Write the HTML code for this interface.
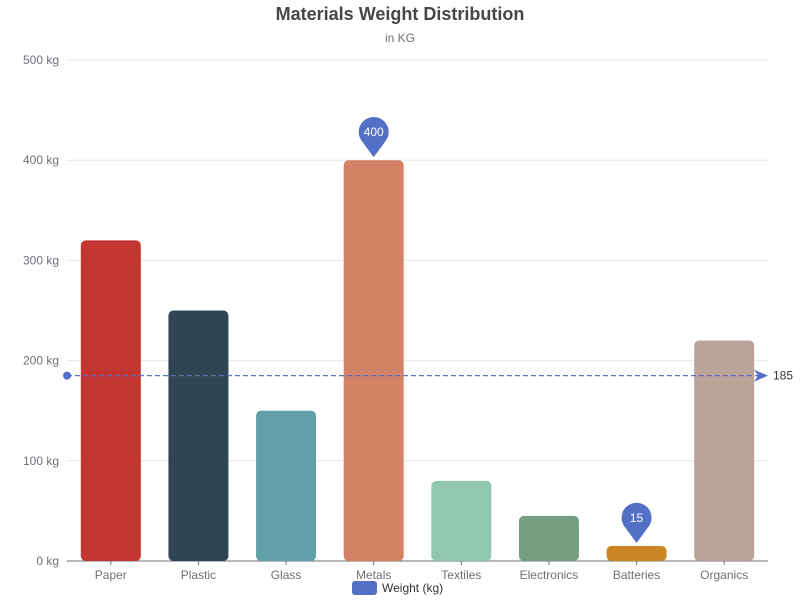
<!DOCTYPE html>
<html><head><meta charset="utf-8"><style>
body{margin:0;background:#fff;font-family:"Liberation Sans","DejaVu Sans",sans-serif}
svg{display:block}
</style></head><body>
<svg id="chart" width="800" height="600">
<text x="400" y="20" text-anchor="middle" font-size="18" font-weight="bold" fill="#464646">Materials Weight Distribution</text>
<text x="400" y="42" text-anchor="middle" font-size="12" fill="#6e7079">in KG</text>
<g id="grid"></g><g id="bars"></g><g id="axis"></g><g id="marks"></g>
<g>
<rect x="352" y="581" width="25" height="14" rx="3" fill="#5470c6"/>
<text x="382" y="592" font-size="12" fill="#333">Weight (kg)</text>
</g>
</svg>
<script>
const categories=["Paper","Plastic","Glass","Metals","Textiles","Electronics","Batteries","Organics"];
const values=[320,250,150,400,80,45,15,220];
const colors=["#c23531","#2f4554","#61a0a8","#d48265","#91c7ae","#749f83","#ca8622","#bda29a"];
const yTicks=[0,100,200,300,400,500];
const NS="http://www.w3.org/2000/svg";
const L=67,R=768,T=60,B=561,yMax=500;
const y=v=>B-(v/yMax)*(B-T);
const band=(R-L)/categories.length;
const x=i=>L+band*(i+0.5);
function mk(tag,attrs,parent,text){const e=document.createElementNS(NS,tag);for(const k in attrs)e.setAttribute(k,attrs[k]);if(text!==undefined)e.textContent=text;document.getElementById(parent).appendChild(e);return e;}
yTicks.forEach(t=>{
 const g=mk('line',{x1:L,x2:R,y1:y(t),y2:y(t),stroke:t===0?'#6e7079':'#e0e6f1'},'grid');
 
 
 const lb=mk('text',{x:L-8,y:y(t)+4,'text-anchor':'end','font-size':12,fill:'#6e7079'},'axis',t+' kg');
 
 
});
const bw=60;
categories.forEach((c,i)=>{
 const x0=x(i)-bw/2,y0=y(values[i]),h=B-y0;
 const p=mk('rect',{x:x0,y:y0,width:bw,height:h,rx:Math.min(5,h/2),fill:colors[i]},'bars');
 
 
 const tk=mk('line',{x1:x(i),x2:x(i),y1:B,y2:B+4,stroke:'#6e7079'},'axis');
 
 
 const lb=mk('text',{x:x(i),y:B+18,'text-anchor':'middle','font-size':12,fill:'#6e7079'},'axis',c);
 
 
});
const avg=values.reduce((a,b)=>a+b,0)/values.length;
const ay=y(avg);
const ml=mk('path',{d:`M${L},${ay}H${R-8}`,stroke:'#5470c6','stroke-width':1.2,'stroke-dasharray':'5,3',fill:'none'},'marks');


const mc=mk('circle',{cx:L,cy:ay,r:4,fill:'#5470c6'},'marks');


const ma=mk('path',{d:`M${R-14},${ay-6}L${R},${ay}L${R-14},${ay+6}L${R-10},${ay}Z`,fill:'#5470c6'},'marks');


const mt=mk('text',{x:R+5,y:ay+4,'font-size':12,fill:'#333'},'marks',String(Math.round(avg)));


function pin(i,name){
 const cx=x(i),tip=y(values[i])-3,cy=tip-25,r=15;
 const p=mk('path',{d:`M${cx},${tip}L${cx-11},${cy+10}A${r},${r} 0 1 1 ${cx+11},${cy+10}Z`,fill:'#5470c6'},'marks');
 
 
 const t=mk('text',{x:cx,y:cy+4,'text-anchor':'middle','font-size':12,fill:'#fff'},'marks',String(values[i]));
 
 
}
pin(values.indexOf(Math.max(...values)),'max-pin');
pin(values.indexOf(Math.min(...values)),'min-pin');
</script>
</body></html>
